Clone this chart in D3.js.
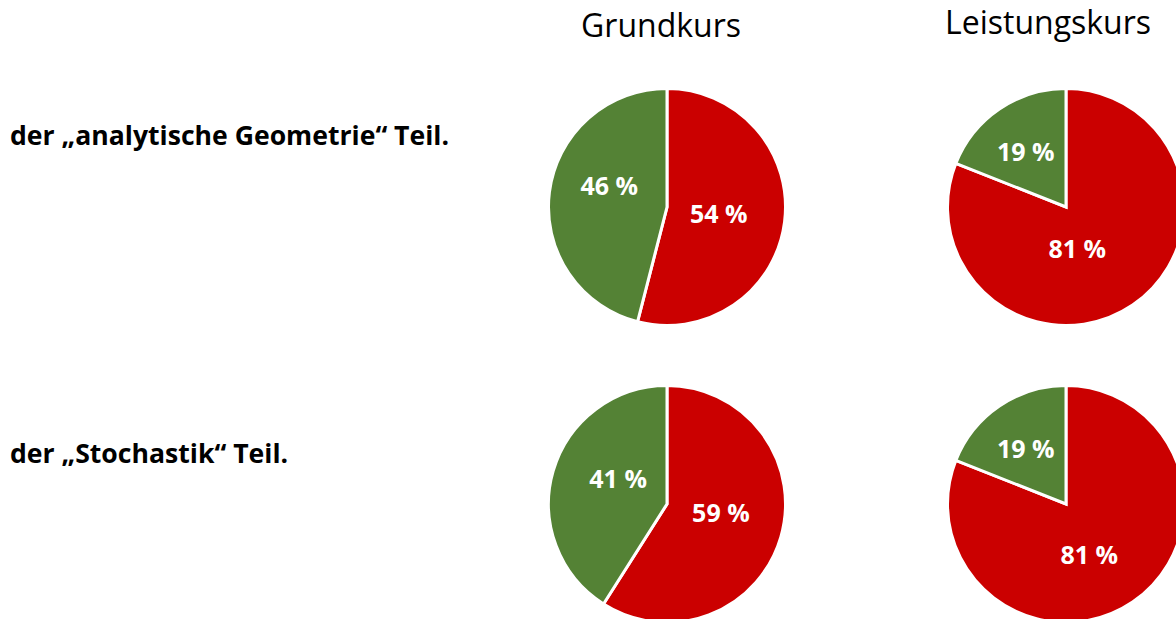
<!DOCTYPE html>
<html><head><meta charset="utf-8">
<script src="https://cdn.jsdelivr.net/npm/d3@7"></script>
<style>html,body{margin:0;padding:0;background:#fff;overflow:hidden}</style>
</head><body>
<svg id="c" width="1176" height="619"></svg>
<script>
const columns = ["Grundkurs", "Leistungskurs"];
const rows = ["der „analytische Geometrie“ Teil.", "der „Stochastik“ Teil."];
const categories = ["rot", "grün"];
const grundkursValues = [[54, 46], [59, 41]];
const leistungskursValues = [[81, 19], [81, 19]];
const colors = ["#CB0000", "#548235"];

// layout: manual label nudges (px) from the slice centroid, as in the original
const labelNudge = {
  "0-0": [[-7, 0], [1, -14]],
  "0-1": [[-3, -8], [8, -8]],
  "1-0": [[-22, -7], [-7, -6]],
  "1-1": [[-10, 2], [-7, -6]]
};

const svg = d3.select("#c");
const font = "'Open Sans', sans-serif";
const colX = d3.scaleOrdinal().domain(columns).range([667, 1066]);
const rowY = d3.scaleOrdinal().domain(rows).range([207, 504]);
const r = 118.5;
const color = d3.scaleOrdinal().domain(categories).range(colors);

svg.selectAll("text.col").data(columns).join("text")
  .attr("class", "col")
  .attr("x", (d, i) => i === 0 ? 661 : 1048)
  .attr("y", (d, i) => i === 0 ? 37 : 34)
  .attr("text-anchor", "middle")
  .attr("font-family", font).attr("font-size", 32).attr("fill", "#000")
  .text(d => d);

svg.selectAll("text.row").data(rows).join("text")
  .attr("class", "row")
  .attr("x", 10)
  .attr("y", (d, i) => i === 0 ? 145 : 463)
  .attr("font-family", font).attr("font-size", 26.6).attr("font-weight", "bold").attr("fill", "#000")
  .text(d => d);

const pie = d3.pie().sort(null).value(d => d.v);
const arc = d3.arc().innerRadius(0).outerRadius(r);
const labelArc = d3.arc().innerRadius(r * 0.5).outerRadius(r * 0.5);

const series = [grundkursValues, leistungskursValues];
columns.forEach((col, ci) => {
  rows.forEach((row, ri) => {
    const data = categories.map((c, k) => ({c, v: series[ci][ri][k]}));
    const nudge = labelNudge[ci + "-" + ri];
    const g = svg.append("g").attr("transform", `translate(${colX(col)},${rowY(row)})`);
    const arcs = pie(data);
    g.selectAll("path").data(arcs).join("path")
      .attr("d", arc)
      .attr("fill", d => color(d.data.c))
      .attr("stroke", "#fff").attr("stroke-width", 3).attr("stroke-linejoin", "miter");
    g.selectAll("text").data(arcs).join("text")
      .attr("transform", (d, k) => {
        const [x, y] = labelArc.centroid(d);
        return `translate(${x + nudge[k][0]},${y + nudge[k][1]})`;
      })
      .attr("text-anchor", "middle").attr("dy", "0.36em")
      .attr("font-family", font).attr("font-size", 25).attr("font-weight", "bold")
      .attr("fill", "#fff")
      .text(d => d.data.v + " %");
  });
});
</script>
</body></html>
